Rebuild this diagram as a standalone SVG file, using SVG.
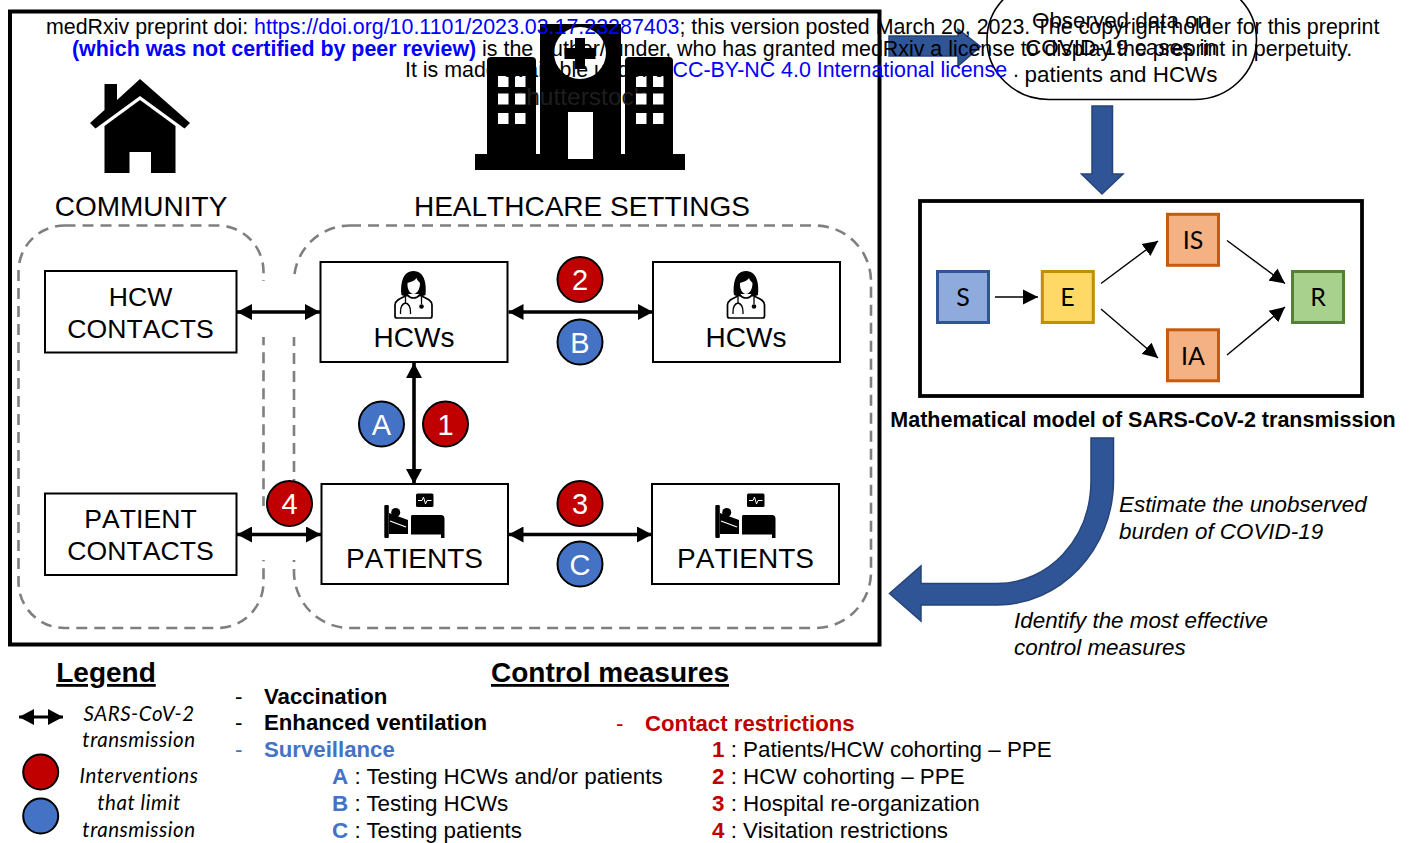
<svg xmlns="http://www.w3.org/2000/svg" xmlns:xlink="http://www.w3.org/1999/xlink" width="1409" height="843" viewBox="0 0 1409 843">
<style>
text{font-family:"Liberation Sans",Arial,sans-serif;fill:#000}
.box{fill:#fff;stroke:#000;stroke-width:2}
.dash{fill:none;stroke:#7f7f7f;stroke-width:2.6;stroke-dasharray:11 7}
.big{font-size:28px;text-anchor:middle;font-kerning:none}
.ct{font-size:26.6px;text-anchor:middle;font-kerning:none}
.num{font-size:29px;text-anchor:middle;fill:#fff}
.r{fill:#c00000;stroke:#000;stroke-width:2}
.b{fill:#4472c4;stroke:#000;stroke-width:2}
.dbl{stroke:#000;stroke-width:3.6;fill:none;marker-start:url(#hs);marker-end:url(#he)}
.thin{stroke:#000;stroke-width:1.4;fill:none;marker-end:url(#t)}
.flow{fill:#2f5597;stroke:#264478;stroke-width:1.5}
.st{font-size:25px;text-anchor:middle;font-family:Lato,"Liberation Sans",sans-serif}
.leg{font-size:20.5px;font-style:italic;text-anchor:middle;font-family:Lato,"Open Sans",sans-serif;letter-spacing:.55px}
.it{font-size:22.4px;font-style:italic}
.li{font-size:22.4px}
.bd{font-weight:bold}
.p{font-size:21.4px}
</style>
<defs>
<marker id="he" markerUnits="userSpaceOnUse" markerWidth="16" markerHeight="16" refX="15" refY="8" orient="auto"><path d="M0 0L15 8L0 16Z"/></marker>
<marker id="hs" markerUnits="userSpaceOnUse" markerWidth="16" markerHeight="16" refX="0" refY="8" orient="auto"><path d="M15 0L0 8L15 16Z"/></marker>
<marker id="t" markerUnits="userSpaceOnUse" markerWidth="16" markerHeight="16" refX="15" refY="8" orient="auto"><path d="M0 0.5L15 8L0 15.5Z"/></marker>
<g id="doc">
<path d="M-12 1C-13-8-12-23 0-23C12-23 13-8 12 1C9 3 6 2 5 0H-5C-6 2-9 3-12 1Z"/>
<path d="M-6-11C-2-12 2-14 3-16C4-13 6-12 6.500-11C6.500-4 3 0 0 0C-3 0-6.500-4-6-11Z" fill="#fff"/>
<path d="M-18.500 22V11C-18.500 6-12 4-6 1C-3 5 3 5 6 1C12 4 18.500 6 18.500 11V22Q18.500 24 16.500 24H-16.500Q-18.500 24-18.500 22Z" fill="#fff" stroke="#000" stroke-width="1.7"/>
<path d="M-8 3V9C-12 10-13 13-13 18M-13 18V20M-8 9C-4 10-3 13-3 18V20M8 3V10" fill="none" stroke="#000" stroke-width="1.3"/>
<circle cx="8" cy="12.500" r="2.300"/>
</g>
<g id="bed">
<rect x="384.300" y="505" width="4.500" height="33" rx="1"/>
<circle cx="395.700" cy="512.500" r="4.500"/>
<path d="M389 513L408 520V531H389Z"/>
<path d="M390 521L406 527" stroke="#fff" stroke-width="1.300"/>
<path d="M389 529H408V534H389Z"/>
<path d="M412 515H441Q444.500 515 444.500 519V538H441V534.500H411V517Q411 515 412 515Z"/>
<rect x="416" y="493.500" width="17.500" height="13.500" rx="1.500"/>
<path d="M418 500.500H422L423.500 497L425.500 504L427 500.500H431.500" fill="none" stroke="#fff" stroke-width="1"/>
</g>
</defs>
<rect width="1409" height="843" fill="#fff"/>
<rect id="frame" x="10" y="11.500" width="869.500" height="633" fill="#fff" stroke="#000" stroke-width="4"/>

<g id="house">
<path d="M140 79L190 123L184.500 128.500L140 96L95.500 128.500L90 123L104.500 110V84H117V100Z" />
<path d="M140 100L175.500 126V173H151V152H129.500V173H104.500V126Z"/>
</g>
<g id="hospital">
<rect x="475" y="154" width="210" height="16"/>
<rect x="540" y="24" width="81" height="132"/>
<path d="M487 155V61Q487 57 491 57H532Q536 57 536 61V155Z"/>
<path d="M625 155V61Q625 57 629 57H669Q673 57 673 61V155Z"/>
<text x="580" y="105" text-anchor="middle" style="font-size:24.5px;fill:#1e1e1e">shutterstock</text>
<circle cx="580" cy="53" r="26" fill="#fff"/>
<path d="M575 38H585V48H595.500V59H585V69H575V59H564.500V48H575Z"/>
<rect x="568" y="112" width="25" height="47" fill="#fff"/>
<g fill="#fff">
<rect x="498" y="76" width="10.500" height="11"/><rect x="515" y="76" width="10.500" height="11"/>
<rect x="498" y="93.500" width="10.500" height="11"/><rect x="515" y="93.500" width="10.500" height="11"/>
<rect x="498" y="113" width="10.500" height="11"/><rect x="515" y="113" width="10.500" height="11"/>
<rect x="636" y="76" width="10.500" height="11"/><rect x="653" y="76" width="10.500" height="11"/>
<rect x="636" y="93.500" width="10.500" height="11"/><rect x="653" y="93.500" width="10.500" height="11"/>
<rect x="636" y="113" width="10.500" height="11"/><rect x="653" y="113" width="10.500" height="11"/>
</g>
</g>
<text id="lbl-community" class="big" x="141" y="216">COMMUNITY</text>
<text id="lbl-healthcare" class="big" x="582" y="216">HEALTHCARE SETTINGS</text>

<g id="zones">
<rect class="dash" x="18.500" y="225.500" width="245" height="402.500" rx="46" ry="46"/>
<rect class="dash" x="294" y="225.500" width="577" height="402.500" rx="56" ry="56"/>
<rect x="258" y="281" width="42" height="56" fill="#fff"/>
<rect x="258" y="506" width="42" height="54" fill="#fff"/>
</g>

<g id="n-hcw-contacts"><rect class="box" x="45" y="271" width="191.500" height="81.500"/><text class="ct" x="140.500" y="306">HCW</text><text class="ct" x="140.500" y="338">CONTACTS</text></g>
<g id="n-patient-contacts"><rect class="box" x="45" y="493.500" width="191.500" height="81.500"/><text class="ct" x="140.500" y="528">PATIENT</text><text class="ct" x="140.500" y="560">CONTACTS</text></g>
<g id="n-hcws-1"><rect class="box" x="320.500" y="262" width="187" height="100"/><use href="#doc" x="413.500" y="294"/><text class="big" x="414" y="347">HCWs</text></g>
<g id="n-hcws-2"><rect class="box" x="653" y="262" width="187" height="100"/><use href="#doc" x="746" y="294"/><text class="big" x="746" y="347">HCWs</text></g>
<g id="n-patients-1"><rect class="box" x="321.500" y="484" width="186.500" height="100"/><use href="#bed"/><text class="big" x="414.500" y="568">PATIENTS</text></g>
<g id="n-patients-2"><rect class="box" x="652" y="484" width="187" height="100"/><use href="#bed" x="331"/><text class="big" x="745.500" y="568">PATIENTS</text></g>

<g id="connectors">
<line class="dbl" x1="237" y1="312" x2="320" y2="312"/>
<line class="dbl" x1="237" y1="534.500" x2="321" y2="534.500"/>
<line class="dbl" x1="508.500" y1="312" x2="653" y2="312"/>
<line class="dbl" x1="508.500" y1="534.500" x2="652" y2="534.500"/>
<line class="dbl" x1="414" y1="363" x2="414" y2="484"/>
<line class="thin" x1="995" y1="297" x2="1038" y2="297"/>
<line class="thin" x1="1101" y1="283.500" x2="1158" y2="241"/>
<line class="thin" x1="1101" y1="309" x2="1158" y2="358"/>
<line class="thin" x1="1227" y1="240.500" x2="1285" y2="283.500"/>
<line class="thin" x1="1227" y1="355" x2="1285" y2="307"/>
<path class="flow" d="M889 36H958V29L980.500 46.500L958 66V56H889Z"/>
<path class="flow" d="M1092 106H1112.500V174H1123L1102 194L1081.500 174H1092Z"/>
<path class="flow" d="M1091 438H1113.500V480C1113.500 550 1060 605 997 605H921V621L889.500 593.500L921 566V583.500H997C1048 583.500 1091 540 1091 480Z"/>
</g>

<g id="m-A"><circle class="b" cx="381.500" cy="424" r="22.500"/><text class="num" x="381.500" y="434.500">A</text></g>
<g id="m-1"><circle class="r" cx="445.500" cy="424" r="22.500"/><text class="num" x="445.500" y="434.500">1</text></g>
<g id="m-2"><circle class="r" cx="580" cy="279.500" r="22.500"/><text class="num" x="580" y="290">2</text></g>
<g id="m-B"><circle class="b" cx="580" cy="342" r="22.500"/><text class="num" x="580" y="352.500">B</text></g>
<g id="m-3"><circle class="r" cx="580" cy="503.500" r="22.500"/><text class="num" x="580" y="514">3</text></g>
<g id="m-C"><circle class="b" cx="580" cy="564" r="22.500"/><text class="num" x="580" y="574.500">C</text></g>
<g id="m-4"><circle class="r" cx="289.500" cy="503.500" r="22.500"/><text class="num" x="289.500" y="514">4</text></g>

<g id="n-observed"><rect x="987" y="-20" width="269.500" height="119.500" rx="62" ry="60" fill="#fff" stroke="#000" stroke-width="1.6"/>
<text class="li" text-anchor="middle" x="1121" y="28">Observed data on</text>
<text class="li" text-anchor="middle" x="1121" y="55">COVID-19 cases in</text>
<text class="li" text-anchor="middle" x="1121" y="82">patients and HCWs</text></g>

<g id="n-model">
<rect x="920" y="201" width="442" height="195" fill="none" stroke="#000" stroke-width="3.800"/>
<g id="n-S"><rect x="937.500" y="271.500" width="51" height="51" fill="#8faadc" stroke="#2f5597" stroke-width="3"/><text class="st" x="963" y="306">S</text></g>
<g id="n-E"><rect x="1042.300" y="271.500" width="51" height="51" fill="#ffd966" stroke="#bf9000" stroke-width="3"/><text class="st" x="1067.500" y="306">E</text></g>
<g id="n-IS"><rect x="1167.500" y="214.300" width="51" height="51" fill="#f4b183" stroke="#c55a11" stroke-width="3"/><text class="st" x="1193" y="249">IS</text></g>
<g id="n-IA"><rect x="1167.500" y="329.800" width="51" height="51" fill="#f4b183" stroke="#c55a11" stroke-width="3"/><text class="st" x="1193" y="365">IA</text></g>
<g id="n-R"><rect x="1292.500" y="271.500" width="51" height="51" fill="#a9d18e" stroke="#548235" stroke-width="3"/><text class="st" x="1318" y="306">R</text></g>
</g>
<text id="lbl-model" x="1143" y="427" text-anchor="middle" class="bd" style="font-size:21.5px">Mathematical model of SARS-CoV-2 transmission</text>
<text class="it" x="1119" y="512">Estimate the unobserved</text>
<text class="it" x="1119" y="539">burden of COVID-19</text>
<text class="it" x="1014" y="628">Identify the most effective</text>
<text class="it" x="1014" y="655">control measures</text>

<g id="legend">
<text x="106" y="682" text-anchor="middle" class="bd" text-decoration="underline" style="font-size:28px">Legend</text>
<line class="dbl" style="stroke-width:3" x1="19" y1="717" x2="63" y2="717"/>
<text class="leg" x="139" y="721">SARS-CoV-2</text>
<text class="leg" x="139" y="747">transmission</text>
<circle class="r" cx="40.700" cy="772" r="17.500"/>
<circle class="b" cx="40.700" cy="816" r="17.500"/>
<text class="leg" x="139" y="783">Interventions</text>
<text class="leg" x="139" y="810">that limit</text>
<text class="leg" x="139" y="837">transmission</text>
</g>
<g id="measures">
<text x="610" y="682" text-anchor="middle" class="bd" text-decoration="underline" style="font-size:28px">Control measures</text>
<text class="li" x="235" y="704">-</text><text class="li bd" x="264" y="704" style="font-size:22.2px">Vaccination</text>
<text class="li" x="235" y="730">-</text><text class="li bd" x="264" y="730" style="font-size:22.2px">Enhanced ventilation</text>
<text class="li" x="235" y="757" style="fill:#4472c4">-</text><text class="li bd" x="264" y="757" style="fill:#4472c4;font-size:22.2px">Surveillance</text>
<text class="li" x="332" y="784"><tspan class="bd" style="fill:#4472c4">A</tspan> : Testing HCWs and/or patients</text>
<text class="li" x="332" y="811"><tspan class="bd" style="fill:#4472c4">B</tspan> : Testing HCWs</text>
<text class="li" x="332" y="838"><tspan class="bd" style="fill:#4472c4">C</tspan> : Testing patients</text>
<text class="li" x="616" y="731" style="fill:#c00000">-</text><text class="li bd" x="645" y="731" style="fill:#c00000;font-size:22.2px">Contact restrictions</text>
<text class="li" x="712" y="757"><tspan class="bd" style="fill:#c00000">1</tspan> : Patients/HCW cohorting – PPE</text>
<text class="li" x="712" y="784"><tspan class="bd" style="fill:#c00000">2</tspan> : HCW cohorting – PPE</text>
<text class="li" x="712" y="811"><tspan class="bd" style="fill:#c00000">3</tspan> : Hospital re-organization</text>
<text class="li" x="712" y="838"><tspan class="bd" style="fill:#c00000">4</tspan> : Visitation restrictions</text>
</g>
<g id="preprint-header">
<text class="p" x="46" y="34">medRxiv preprint doi: <tspan style="fill:#0000ff">https://doi.org/10.1101/2023.03.17.23287403</tspan>; this version posted March 20, 2023. The copyright holder for this preprint</text>
<text class="p" x="72" y="56"><tspan class="bd" style="fill:#0000ff">(which was not certified by peer review)</tspan> is the author/funder, who has granted medRxiv a license to display the preprint in perpetuity.</text>
<text class="p" x="405" y="77">It is made available under a <tspan style="fill:#0000ff">CC-BY-NC 4.0 International license</tspan> .</text>
</g>
</svg>
